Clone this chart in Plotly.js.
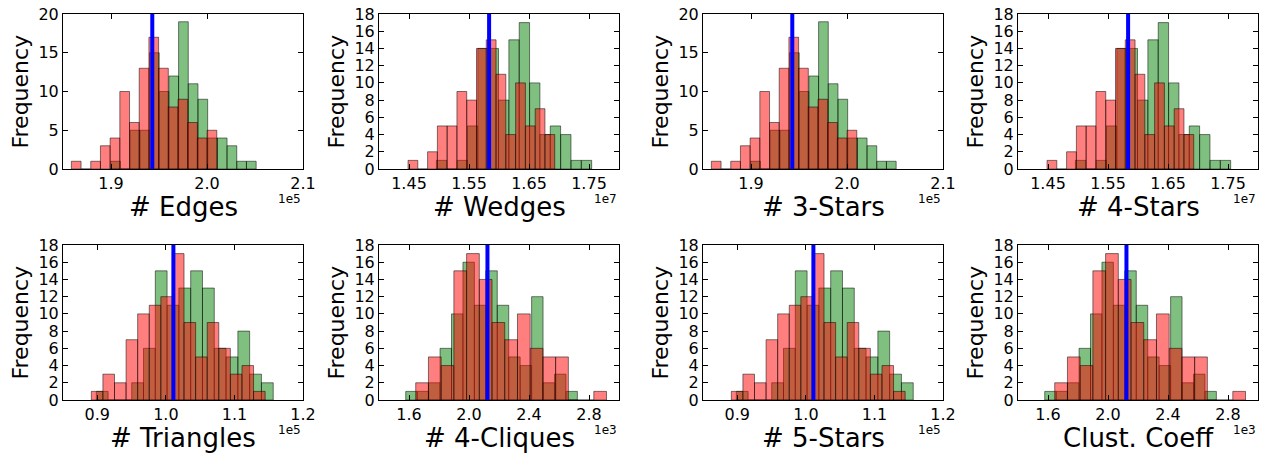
<!DOCTYPE html>
<html><head><meta charset="utf-8">
<script src="https://cdn.plot.ly/plotly-3.0.1.min.js"></script>
<style>html,body{margin:0;padding:0;background:#fff}#chart{width:1269px;height:454px}</style>
</head><body><div id="chart"></div>
<script>
// ---- data (x values in the units of the offset label) ----
const panelTitles = ['# Edges', '# Wedges', '# 3-Stars', '# 4-Stars', '# Triangles', '# 4-Cliques', '# 5-Stars', 'Clust. Coeff'];
const offsetLabels = ['1e5', '1e7', '1e5', '1e7', '1e5', '1e3', '1e5', '1e3'];

// Edges / 3-Stars (1e5)
const edgesRedStart = 1.8587, edgesRedWidth = 0.0101;
const edgesRedCounts = [1, 0, 1, 3, 4, 10, 6, 13, 17, 13, 8, 9, 6, 4, 5];
const edgesGreenStart = 1.8997, edgesGreenWidth = 0.0101;
const edgesGreenCounts = [1, 0, 5, 5, 15, 10, 12, 19, 11, 9, 4, 4, 3, 1, 1];
const edgesObserved = 1.943;

// Wedges / 4-Stars (1e7)
const wedgesRedStart = 1.4484, wedgesRedWidth = 0.0163;
const wedgesRedCounts = [1, 0, 2, 5, 5, 9, 8, 14, 15, 11, 4, 10, 5, 7, 4];
const wedgesGreenStart = 1.4957, wedgesGreenWidth = 0.01725;
const wedgesGreenCounts = [1, 0, 1, 5, 14, 14, 8, 15, 17, 10, 4, 5, 4, 1, 1];
const wedgesObserved = 1.5835;

// Triangles / 5-Stars (1e5)
const triRedStart = 0.8913, triRedWidth = 0.0169;
const triRedCounts = [1, 3, 2, 7, 10, 11, 12, 17, 9, 5, 9, 6, 3, 4, 1];
const triGreenStart = 0.8986, triGreenWidth = 0.0172;
const triGreenCounts = [1, 0, 0, 2, 6, 15, 11, 13, 15, 13, 6, 5, 8, 3, 2];
const triObserved = 1.011;

// 4-Cliques / Clust. Coeff (1e3)
const cliqRedStart = 1.6448, cliqRedWidth = 0.0848;
const cliqRedCounts = [2, 5, 4, 15, 17, 14, 9, 7, 10, 6, 5, 5, 0, 0, 1];
const cliqGreenStart = 1.5781, cliqGreenWidth = 0.0763;
const cliqGreenCounts = [1, 1, 2, 6, 10, 16, 11, 15, 11, 5, 4, 12, 2, 3, 1];
const cliqObserved = 2.123;

const xRanges = [[1.85, 2.1], [1.40, 1.80], [1.85, 2.1], [1.40, 1.80], [0.85, 1.2], [1.4, 3.0], [0.85, 1.2], [1.4, 3.0]];
const xTickVals = [[1.9, 2.0, 2.1], [1.45, 1.55, 1.65, 1.75], [1.9, 2.0, 2.1], [1.45, 1.55, 1.65, 1.75],
                   [0.9, 1.0, 1.1, 1.2], [1.6, 2.0, 2.4, 2.8], [0.9, 1.0, 1.1, 1.2], [1.6, 2.0, 2.4, 2.8]];
const xTickText = [['1.9', '2.0', '2.1'], ['1.45', '1.55', '1.65', '1.75'], ['1.9', '2.0', '2.1'], ['1.45', '1.55', '1.65', '1.75'],
                   ['0.9', '1.0', '1.1', '1.2'], ['1.6', '2.0', '2.4', '2.8'], ['0.9', '1.0', '1.1', '1.2'], ['1.6', '2.0', '2.4', '2.8']];
const yMax = [20, 18, 20, 18, 18, 18, 18, 18];
const yStep = [5, 2, 5, 2, 2, 2, 2, 2];

const metrics = {
  edges: {rs: edgesRedStart, rw: edgesRedWidth, rc: edgesRedCounts, gs: edgesGreenStart, gw: edgesGreenWidth, gc: edgesGreenCounts, obs: edgesObserved},
  wedges: {rs: wedgesRedStart, rw: wedgesRedWidth, rc: wedgesRedCounts, gs: wedgesGreenStart, gw: wedgesGreenWidth, gc: wedgesGreenCounts, obs: wedgesObserved},
  tri: {rs: triRedStart, rw: triRedWidth, rc: triRedCounts, gs: triGreenStart, gw: triGreenWidth, gc: triGreenCounts, obs: triObserved},
  cliq: {rs: cliqRedStart, rw: cliqRedWidth, rc: cliqRedCounts, gs: cliqGreenStart, gw: cliqGreenWidth, gc: cliqGreenCounts, obs: cliqObserved}
};
const panelMetric = ['edges', 'wedges', 'edges', 'wedges', 'tri', 'cliq', 'tri', 'cliq'];

// ---- layout geometry (pixels) ----
const W = 1269, H = 454;
const colLeft = [63, 379, 703, 1018];
const plotW = 240;
const rowTop = [14, 245], rowBottom = [169, 400];

const FONT = 'DejaVu Sans, sans-serif';
const traces = [], shapes = [], annotations = [];
const layout = {
  width: W, height: H, margin: {l: 0, r: 0, t: 0, b: 0},
  paper_bgcolor: '#fff', plot_bgcolor: '#fff', showlegend: false, barmode: 'overlay',
  font: {family: FONT, color: '#000', size: 16}
};

function centers(start, width, n) { const a = []; for (let i = 0; i < n; i++) a.push(start + width * (i + 0.5)); return a; }

for (let p = 0; p < 8; p++) {
  const m = metrics[panelMetric[p]];
  const col = p % 4, row = Math.floor(p / 4);
  const sfx = p === 0 ? '' : String(p + 1);
  const xa = 'x' + sfx, ya = 'y' + sfx;
  const left = colLeft[col], top = rowTop[row], bottom = rowBottom[row];

  traces.push({type: 'bar', x: centers(m.gs, m.gw, m.gc.length), y: m.gc, width: m.gw,
    xaxis: xa, yaxis: ya, marker: {color: 'rgba(0,128,0,0.5)', line: {color: 'rgba(0,0,0,0.5)', width: 1}}, hoverinfo: 'x+y'});
  traces.push({type: 'bar', x: centers(m.rs, m.rw, m.rc.length), y: m.rc, width: m.rw,
    xaxis: xa, yaxis: ya, marker: {color: 'rgba(255,0,0,0.5)', line: {color: 'rgba(0,0,0,0.5)', width: 1}}, hoverinfo: 'x+y'});

  shapes.push({type: 'line', xref: xa, yref: ya + ' domain', x0: m.obs, x1: m.obs, y0: 0, y1: 1,
    line: {color: '#0000ff', width: 4}, layer: 'above'});

  const axCommon = {showgrid: false, zeroline: false, showline: true, linecolor: '#000', linewidth: 1,
    mirror: 'allticks', ticks: 'inside', ticklen: 5, tickcolor: '#000', tickfont: {family: FONT, size: 16, color: '#000'}};
  layout['xaxis' + sfx] = Object.assign({}, axCommon, {
    domain: [left / W, (left + plotW) / W], anchor: ya, range: xRanges[p],
    tickmode: 'array', tickvals: xTickVals[p], ticktext: xTickText[p]});
  layout['yaxis' + sfx] = Object.assign({}, axCommon, {
    domain: [(H - bottom) / H, (H - top) / H], anchor: xa, range: [0, yMax[p]],
    tick0: 0, dtick: yStep[p]});

  annotations.push({xref: 'paper', yref: 'paper', x: (left - 43) / W, y: (H - (top + bottom) / 2) / H,
    text: 'Frequency', textangle: -90, showarrow: false, xanchor: 'center', yanchor: 'middle',
    font: {family: FONT, size: 22, color: '#000'}});
  annotations.push({xref: 'paper', yref: 'paper', x: (left + plotW / 2) / W, y: (H - (bottom + 38)) / H,
    text: panelTitles[p], showarrow: false, xanchor: 'center', yanchor: 'middle',
    font: {family: FONT, size: 26, color: '#000'}});
  annotations.push({xref: 'paper', yref: 'paper', x: (left + plotW) / W, y: (H - (bottom + 30)) / H,
    text: offsetLabels[p], showarrow: false, xanchor: 'right', yanchor: 'middle',
    font: {family: FONT, size: 12, color: '#000'}});
}
layout.shapes = shapes;
layout.annotations = annotations;

Plotly.newPlot('chart', traces, layout, {displayModeBar: false, staticPlot: true});
</script>
</body></html>
